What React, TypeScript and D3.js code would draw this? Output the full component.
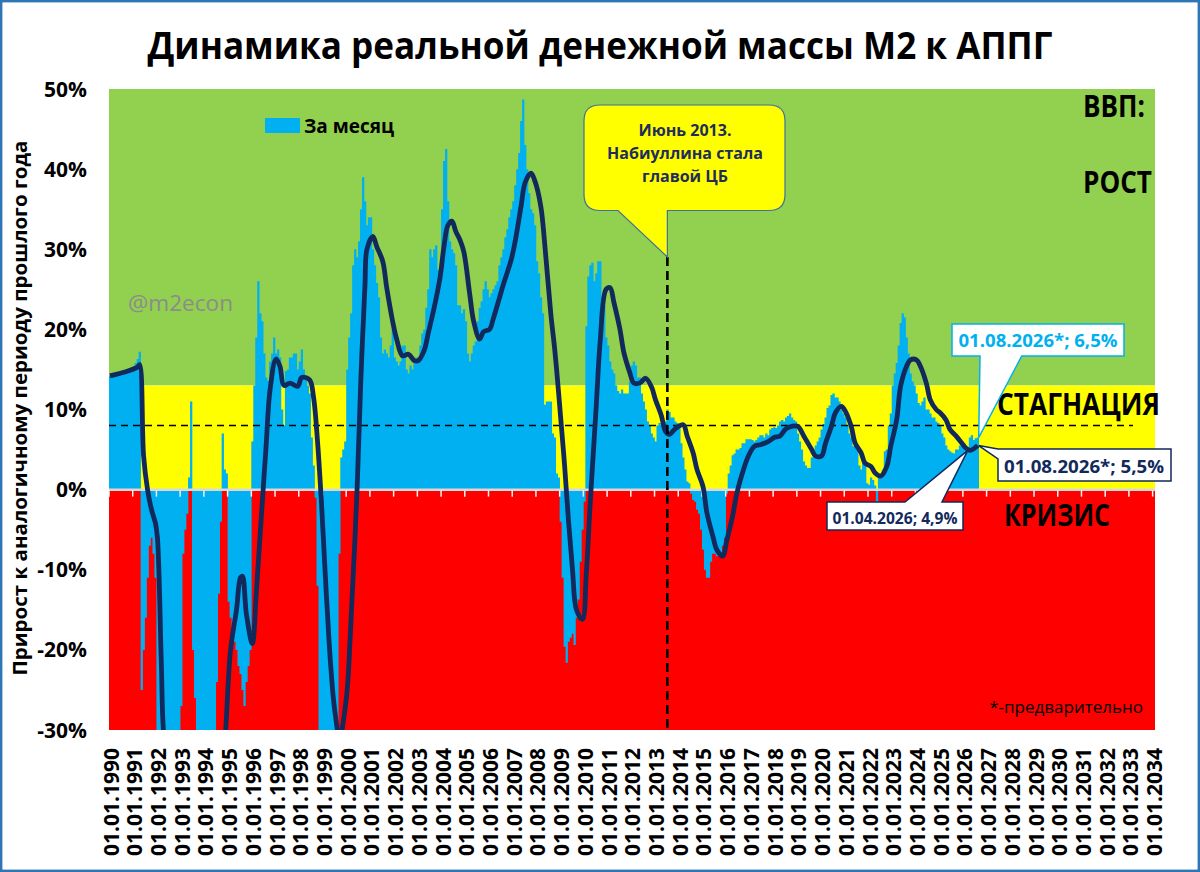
import React from 'react';
import * as d3 from 'd3';

// ---------- DATA ----------
// Real M2 growth, % y/y, monthly bars from 01.1990 to 08.2026 (one row per year)
const monthlyGrowth: number[] = [
  14.2, 14.3, 14.3, 14.4, 14.5, 14.5, 14.6, 14.7, 14.8, 14.9, 15.0, 15.2, // 1990
  15.4, 15.8, 16.3, 17.2, -25, -20, -16, -11, -7, -6, -8, -11, // 1991
  -36, -40, -45, -48, -50, -52, -50, -48, -46, -45, -42, -40, // 1992
  -27, -8, -5, -3, 1.5, 11, -20, -26, -38, -42, -45, -45, // 1993
  -48, -50, -50, -46, -42, -35, -24, -13, -4, 7, 2.5, 2, // 1994
  -14, -16, -18, -19, -20, -22, -23, -25, -27, -24, -22, -20, // 1995
  6, 13, 19, 26, 22, 21, 17, 14, 13.6, 16, 17, 19, // 1996
  17, 17.5, 16.5, 10, 8, 14.8, 15, 16.5, 16.5, 17, 17, 15, // 1997
  16, 17.5, 15, 14, 13, 12, 6.5, 3, -1, -12, -35, -45, // 1998
  -50, -55, -55, -52, -50, -45, -40, -35, -8, 4, 5, 6, // 1999
  15, 19, 22, 28, 30, 29, 31, 35, 39, 36, 33, 34, // 2000
  34, 30, 28, 25.8, 24, 19, 17, 17.5, 17, 16.5, 18, 20, // 2001
  16.5, 16, 15.5, 16, 18, 18, 15, 14.5, 15.5, 15, 16, 16.5, // 2002
  16.5, 18, 19.5, 20, 22.7, 25, 30, 29, 30, 30.5, 27.4, 27, // 2003
  35, 41, 42.5, 36, 31, 30, 29.5, 28, 23, 23, 22, 22.5, // 2004
  21, 17, 16, 17, 18, 18.5, 21, 22.7, 23.5, 25, 26, 25, // 2005
  24, 24.5, 25, 25.5, 26, 28, 29, 30, 31.5, 32.5, 34, 35, // 2006
  36, 38, 40, 42, 46, 48.7, 43, 40, 37, 35, 34.5, 33, // 2007
  28.5, 27, 24, 22, 10.6, 11, 11, 11, 7, 6.5, 2, 1.5, // 2008
  -4, -11, -19.6, -21.6, -19, -18.5, -18, -19.4, -16, -13.7, -9, -5, // 2009
  -1.5, 20.4, 26.6, 28, 28.3, 26, 27, 28.5, 28.5, 24, 22.9, 19, // 2010
  18, 16, 15, 14.5, 13, 12.3, 12, 12.5, 12, 12, 12, 13.5, // 2011
  15.5, 16, 15.5, 14, 14, 12, 11, 10, 8.5, 8, 7, 6.5, // 2012
  6, 8, 8.3, 8, 8, 8.5, 10, 9.7, 9, 9, 8.5, 8.3, // 2013
  8, 5.8, 4, 2.5, 1, 0.8, -0.5, -1.3, -1.5, -2.5, -3, -5, // 2014
  -7.5, -10, -11, -11, -9, -8, -8, -8.3, -8, -8, -7, -6, // 2015
  -0.5, 2, 3, 4.3, 4.5, 5, 5, 5.2, 5.8, 5.8, 6.3, 6.3, // 2016
  6.3, 6.2, 6, 6.2, 6.5, 6.8, 6.8, 6.5, 7, 6.8, 7.5, 7.7, // 2017
  7.8, 7.7, 8, 8.5, 8.7, 8.5, 9, 9.2, 9.5, 9, 8.7, 8.5, // 2018
  7, 6, 5, 3.5, 3, 2.7, 2.7, 4, 4.6, 5.5, 6, 6.5, // 2019
  7.5, 8.2, 9, 10.2, 10.5, 11.8, 12, 11.5, 11.5, 11, 10, 9.5, // 2020
  9, 8, 7, 6.5, 5.4, 5.5, 5.5, 3, 2.5, 3.5, 3.5, 0.8, // 2021
  0.6, 1.5, 1.2, 0.5, -1.5, 1.5, 1.8, 2.5, 4.8, 5, 8, 9.5, // 2022
  13, 14.5, 15.8, 18, 20.8, 22, 21.5, 19, 17, 14.5, 13.5, 13, // 2023
  12, 10.8, 10.5, 11, 11.5, 10, 10, 9.5, 9, 9, 8.5, 8.3, // 2024
  8, 7, 6.5, 5.5, 5, 4.8, 4.6, 4.5, 5, 5, 5.5, 6, // 2025
  5.5, 5, 5.2, 6.5, 6.8, 6.2, 6.4, 6.5, // 2026
];

// Smoothed trend line: month index (0 = 01.1990) and value, %
const lineMonth: number[] = [
  0, 8, 14, 15, 17, 19, 21, 23, 24, 26, 27, 32, 40, 48, 54, 58, 61, 64, 66, 67, 69, 72, 74, 76, 79, 81,
  84, 86, 88, 91, 95, 97, 101, 103, 105, 107, 109, 111, 113, 115, 116, 118, 120, 122, 125, 127, 129, 130,
  133, 135, 138, 140, 143, 145, 148, 151, 154, 156, 159, 161, 164, 167, 169, 171, 173, 175, 177, 179, 182,
  184, 187, 189, 192, 194, 197, 199, 203, 205, 208, 210, 213, 215, 218, 220, 223, 225, 227, 228, 230, 232,
  234, 236, 239, 241, 243, 246, 248, 251, 253, 255, 258, 260, 263, 265, 268, 271, 274, 276, 279, 281, 283,
  286, 290, 292, 295, 297, 300, 302, 305, 307, 310, 312, 315, 317, 320, 323, 326, 329, 333, 336, 339, 342,
  345, 348, 351, 355, 357, 360, 362, 365, 367, 370, 372, 375, 377, 380, 382, 385, 387, 390, 393, 395, 398,
  400, 403, 405, 408, 410, 413, 415, 418, 420, 423, 425, 428, 431, 433, 435, 437, 439,
];
const lineValue: number[] = [
  14.2, 14.7, 15.3, 15.6, 4.2, 0, -2.5, -4.2, -6, -22, -30, -44, -52, -50, -42, -32, -20, -15, -11, -10.8,
  -15.5, -19.2, -13, -5.5, 5.5, 12.5, 16.3, 15.4, 13, 13.3, 12.9, 14, 13.7, 11.5, 6, -1.7, -11, -19.6, -26,
  -30, -32, -29, -25, -16, 0, 14.3, 25.5, 30, 31.6, 30.3, 28.5, 25.2, 21, 18.8, 16.7, 16.9, 16.1, 16.1,
  17.4, 19.5, 22.7, 26.5, 30.4, 33, 33.5, 32.2, 31.2, 29.7, 24.4, 21, 18.8, 19.7, 20, 21.4, 23.9, 25.6,
  28.7, 31, 35.4, 38.3, 39.5, 38.5, 35.3, 30.5, 22, 17.5, 12, 9, 3, -4, -10, -15, -16.2, -10.4, -1.5,
  10.4, 18.5, 25, 25.2, 23.3, 20, 17.1, 14.6, 13.3, 13.3, 13.9, 12.8, 11.2, 9.2, 7.3, 6.9, 7.6, 8.1, 6.7,
  4.6, 2.5, 0.4, -2.9, -5.8, -7.5, -8.3, -6.4, -3.3, -0.6, 2.1, 4.2, 5.4, 5.6, 6, 6.5, 6.7, 7.6, 7.9, 7.9,
  6.7, 5, 4.2, 4.2, 5.8, 7.9, 9.6, 10.4, 9.8, 7.9, 5.8, 4.6, 3.3, 2.9, 2.1, 1.7, 2.9, 5.4, 8.7, 12.9,
  15.4, 16.2, 16.2, 15.4, 13.3, 11.2, 10, 9.6, 8.7, 7.5, 6.7, 5.8, 5.2, 4.9, 5.1, 5.5,
];

const yTicks: number[] = [50, 40, 30, 20, 10, 0, -10, -20, -30];
const years: number[] = d3.range(1990, 2035);
const yearLabels: string[] = years.map((yr) => `01.01.${yr}`);

const zoneBounds: number[] = [50, 13, 0, -30];
const zoneColors: string[] = ['#92D050', '#FFFF00', '#FF0000'];
const benchmarkLevel = 8;
const nabiullinaMonth = 282.5; // June 2013
const lastMonth = 439; // 01.08.2026
const lastBar = 6.5;
const lastLine = 5.5;
const aprMonth = 435; // 01.04.2026
const aprLine = 4.9;

// ---------- LAYOUT ----------
const W = 1200;
const H = 872;
const PL = 109;
const PR = 1155;
const PT = 89;
const PB = 730;

const FONT = "'Open Sans', 'Noto Sans', 'DejaVu Sans', sans-serif";
const BAR = '#00B0F0';
const NAVY = '#12295C';

export default function App() {
  const x = d3.scaleLinear().domain([0, 529.2]).range([PL, PR]);
  const y = d3.scaleLinear().domain([-30, 50]).range([PB, PT]);

  const pts: [number, number][] = lineMonth.map((m, i) => [m, lineValue[i]]);
  const linePath = d3
    .line<[number, number]>()
    .x((d) => x(d[0] + 0.5))
    .y((d) => y(d[1]))
    .curve(d3.curveCatmullRom.alpha(0.5))(pts) as string;

  const y0 = y(0);
  const vx = x(nabiullinaMonth);

  // all bars as one path (no seams between adjacent months)
  const barPath = monthlyGrowth
    .map((v, i) => {
      const x0 = x(i);
      const w = x(i + 1) - x0 + 0.3;
      const top = Math.min(y(v), y0);
      const h = Math.abs(y(v) - y0);
      return `M${x0.toFixed(2)},${top.toFixed(2)}h${w.toFixed(2)}v${h.toFixed(2)}h${(-w).toFixed(2)}Z`;
    })
    .join('');

  // label tips
  const tipBarX = x(lastMonth + 0.5) + 1;
  const tipBarY = y(lastBar);
  const tipLineX = x(lastMonth + 0.5) + 1;
  const tipLineY = y(lastLine);
  const tipAprX = x(aprMonth + 0.5) - 2;
  const tipAprY = y(aprLine);

  return (
    <svg
      width={W}
      height={H}
      viewBox={`0 0 ${W} ${H}`}
      style={{ position: 'absolute', left: 0, top: 0, background: '#fff' }}
      fontFamily={FONT}
    >
      <defs>
        <clipPath id="plotClip">
          <rect x={PL} y={PT} width={PR - PL} height={PB - PT} />
        </clipPath>
      </defs>
      <rect x={0} y={0} width={W} height={H} fill="#fff" />

      {/* Title */}
      <text
        x={600}
        y={59}
        textAnchor="middle"
        fontSize={38}
        fontWeight={700}
        textLength={905}
        lengthAdjust="spacingAndGlyphs"
        fill="#000"
      >
        Динамика реальной денежной массы М2 к АППГ
      </text>

      {/* zones */}
      {zoneColors.map((c, i) => (
        <rect
          key={c}
          x={PL}
          y={y(zoneBounds[i])}
          width={PR - PL}
          height={y(zoneBounds[i + 1]) - y(zoneBounds[i])}
          fill={c}
        />
      ))}

      {/* watermark inside plot */}
      <text x={128} y={311} fontSize={22} fill="#8C8C8C" textLength={105} lengthAdjust="spacingAndGlyphs">
        @m2econ
      </text>

      {/* bars */}
      <g clipPath="url(#plotClip)">
        <path d={barPath} fill={BAR} />
      </g>

      {/* zero axis line and ticks */}
      <line x1={PL} x2={PR} y1={y0} y2={y0} stroke="#D9D9D9" strokeWidth={2.5} />
      {years.map((yr, i) => (
        <line key={yr} x1={x(i * 12)} x2={x(i * 12)} y1={y0 + 1} y2={y0 + 7} stroke="#F2F2F2" strokeWidth={1.5} />
      ))}

      {/* benchmark dashed line */}
      <line
        x1={PL}
        x2={1133}
        y1={y(benchmarkLevel)}
        y2={y(benchmarkLevel)}
        stroke="#000"
        strokeWidth={1.6}
        strokeDasharray="7,5"
      />

      {/* trend line */}
      <g clipPath="url(#plotClip)">
        <path d={linePath} fill="none" stroke={NAVY} strokeWidth={4.8} strokeLinejoin="round" />
      </g>

      {/* vertical dashed line June 2013 */}
      <line x1={vx} x2={vx} y1={257} y2={PB} stroke="#000" strokeWidth={2.6} strokeDasharray="9,5" />

      {/* June 2013 callout */}
      <path
        d={`M600,105 H769 Q785,105 785,121 V194.5 Q785,210.5 769,210.5 H${vx} L${vx},257 L618,210.5 H600 Q584,210.5 584,194.5 V121 Q584,105 600,105 Z`}
        fill="#FFFF00"
        stroke="#41719C"
        strokeWidth={1.2}
      />
      <g fontSize={16} fontWeight={700} fill="#1F2D5C" textAnchor="middle">
        <text x={685} y={136}>Июнь 2013.</text>
        <text x={685} y={159}>Набиуллина стала</text>
        <text x={685} y={182}>главой ЦБ</text>
      </g>

      {/* legend */}
      <rect x={265} y={118} width={35} height={15} fill={BAR} />
      <text x={304} y={133} fontSize={19} fontWeight={700} fill="#000">
        За месяц
      </text>

      {/* zone labels */}
      <g fontWeight={700} fontSize={30} fill="#000">
        <text x={1083} y={117} textLength={62} lengthAdjust="spacingAndGlyphs">ВВП:</text>
        <text x={1083} y={193} textLength={69} lengthAdjust="spacingAndGlyphs">РОСТ</text>
        <text x={997} y={415} textLength={163} lengthAdjust="spacingAndGlyphs">СТАГНАЦИЯ</text>
        <text x={1004} y={526} textLength={106} lengthAdjust="spacingAndGlyphs">КРИЗИС</text>
      </g>
      <text x={1143} y={713} textAnchor="end" fontSize={17} fill="#000">
        *-предварительно
      </text>

      {/* data label: bar 6.5% */}
      <path
        d={`M952,324 H1124 V356 H1021.7 L${tipBarX},${tipBarY} L980,356 H952 Z`}
        fill="#fff"
        stroke={BAR}
        strokeWidth={1.5}
      />
      <text x={1038} y={347} textAnchor="middle" fontSize={18} fontWeight={700} fill={BAR} textLength={159} lengthAdjust="spacingAndGlyphs">
        01.08.2026*; 6,5%
      </text>

      {/* data label: line 5.5% */}
      <path
        d={`M998,449 H1171 V481 H998 V459 L${tipLineX},${tipLineY} Z`}
        fill="#fff"
        stroke={NAVY}
        strokeWidth={1.5}
      />
      <text x={1084} y={473} textAnchor="middle" fontSize={18} fontWeight={700} fill={NAVY} textLength={160} lengthAdjust="spacingAndGlyphs">
        01.08.2026*; 5,5%
      </text>

      {/* data label: line 4.9% */}
      <path
        d={`M827,502 H905 L${tipAprX},${tipAprY} L942,502 H963 V530 H827 Z`}
        fill="#fff"
        stroke={NAVY}
        strokeWidth={1.5}
      />
      <text x={895} y={524} textAnchor="middle" fontSize={16} fontWeight={700} fill={NAVY} textLength={125} lengthAdjust="spacingAndGlyphs">
        01.04.2026; 4,9%
      </text>

      {/* y axis tick labels */}
      {yTicks.map((t) => (
        <text key={t} x={87} y={y(t) + 7.5} textAnchor="end" fontSize={21} fontWeight={700} fill="#000">
          {`${t}%`}
        </text>
      ))}

      {/* y axis title */}
      <text
        transform="translate(27,408) rotate(-90)"
        textAnchor="middle"
        fontSize={19}
        fontWeight={700}
        fill="#000"
        textLength={535}
        lengthAdjust="spacingAndGlyphs"
      >
        Прирост к аналогичному периоду прошлого года
      </text>

      {/* x axis labels */}
      {yearLabels.map((lab, i) => (
        <text
          key={lab}
          transform={`translate(${x(i * 12) + 9.5},748) rotate(-90)`}
          textAnchor="end"
          fontSize={21}
          fontWeight={700}
          fill="#000"
        >
          {lab}
        </text>
      ))}

      {/* frame */}
      <rect x={1.2} y={1.2} width={W - 2.4} height={H - 2.4} fill="none" stroke="#2E75B6" strokeWidth={2.4} />
    </svg>
  );
}
